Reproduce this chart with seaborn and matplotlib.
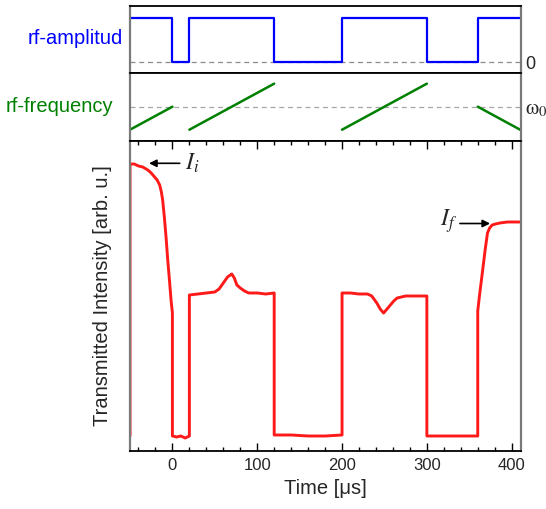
import numpy as np
import pandas as pd
import matplotlib
matplotlib.use("Agg")
import matplotlib.pyplot as plt
from matplotlib.ticker import MultipleLocator
import seaborn as sns

# ---------------- data ----------------
amp_time = [-50, 0, 0, 20, 20, 120, 120, 200, 200, 300, 300, 360, 360, 411]
amp_value = [1, 1, 0, 0, 1, 1, 0, 0, 1, 1, 0, 0, 1, 1]

freq_time = [-50, 0, 20, 120, 200, 300, 360, 411]
freq_value = [-1, 0, -1, 1, -1, 1, 0, -1.02]
freq_segment = [0, 0, 1, 1, 2, 2, 3, 3]

trace_time = [-50, -50, -45, -40, -35, -29, -25, -21, -18, -15, -13, -11.5, -9.5,
              -7.5, -5.5, -3.5, -1.6, 0, 0, 5, 10, 15, 20, 20, 30, 40, 50, 55,
              60, 65, 70, 73, 76, 80, 85, 90, 100, 110, 120, 120, 140, 160, 180,
              200, 200, 210, 220, 230, 235, 241, 245, 249, 253, 257, 261, 265,
              275, 290, 300, 300, 320, 340, 360, 360, 362, 364.8, 368.7, 371.5,
              374, 377, 381, 386, 395, 411]
trace_value = [15, 287, 287, 285, 284, 281, 278, 274, 271, 266, 259, 251, 234,
               214, 191, 171, 151, 138, 15, 14, 15, 13, 15, 156, 157, 158, 159,
               162, 168, 174, 177, 173, 166, 163, 160, 158, 158, 157, 158, 16,
               16, 15, 15, 16, 158, 158, 157, 157, 155, 148, 142, 138, 142, 146,
               150, 153, 155, 155, 155, 15, 15, 15, 15, 140, 155, 174, 201, 218,
               223, 226, 227, 228, 229, 229]

xticks = [0, 100, 200, 300, 400]

amp_df = pd.DataFrame({"t": amp_time, "a": amp_value})
freq_df = pd.DataFrame({"t": freq_time, "f": freq_value, "seg": freq_segment})
trace_df = pd.DataFrame({"t": trace_time, "I": trace_value})

# ---------------- style ----------------
sns.set_style("white")
plt.rcParams["font.family"] = ["Liberation Sans", "DejaVu Sans"]
plt.rcParams["mathtext.fontset"] = "stix"

fig = plt.figure(figsize=(5.46, 5.09), dpi=100)
gs = fig.add_gridspec(3, 1, height_ratios=[67.3, 67.7, 310], hspace=0,
                      left=130 / 546, right=521 / 546,
                      bottom=1 - 451 / 509, top=1 - 6 / 509)
ax1 = fig.add_subplot(gs[0])
ax2 = fig.add_subplot(gs[1], sharex=ax1)
ax3 = fig.add_subplot(gs[2], sharex=ax1)

BLUE = "#0000ff"
GREEN = "#008000"
RED = "#ff1a1a"

# top: rf amplitude
ax1.axhline(0, color="#8c8c8c", lw=0.9, ls=(0, (4, 3)))
sns.lineplot(data=amp_df, x="t", y="a", ax=ax1, color=BLUE, lw=1.6,
             sort=False, estimator=None)
ax1.set_ylim(-0.25, 1.26)

# middle: rf frequency
ax2.axhline(0, color="#a6a6a6", lw=0.9, ls=(0, (4, 3)))
sns.lineplot(data=freq_df, x="t", y="f", units="seg", ax=ax2, color=GREEN,
             lw=1.8, sort=False, estimator=None)
ax2.set_ylim(-1.49, 1.45)

# bottom: transmitted intensity
sns.lineplot(data=trace_df, x="t", y="I", ax=ax3, color=RED, lw=2.1,
             sort=False, estimator=None)
ax3.set_ylim(0, 310)
ax3.set_xlim(-50, 411)

for ax in (ax1, ax2, ax3):
    ax.set_xlabel("")
    ax.set_ylabel("")
    for side in ("top", "bottom"):
        ax.spines[side].set_color("black")
        ax.spines[side].set_linewidth(1.3)
    for side in ("left", "right"):
        ax.spines[side].set_color("#7a7a7a")
        ax.spines[side].set_linewidth(1.6)
        ax.spines[side].set_visible(True)

for ax in (ax1, ax2):
    ax.tick_params(axis="x", which="both", bottom=False, top=False,
                   labelbottom=False)
    ax.yaxis.tick_right()
    ax.set_yticks([0])
    ax.tick_params(axis="y", length=0, pad=3)

ax1.set_yticklabels(["0"], fontsize=13)
ax2.set_yticklabels([r"$\mathrm{\omega}_0$"], fontsize=15)

ax3.set_yticks([])
ax3.set_xticks(xticks)
ax3.set_xticklabels([str(v) for v in xticks])
ax3.xaxis.set_minor_locator(MultipleLocator(20))
ax3.tick_params(axis="x", which="both", direction="in", top=True, bottom=True,
                labelsize=12, pad=5, color="black")
ax3.tick_params(axis="x", which="major", length=5.5, width=1)
ax3.tick_params(axis="x", which="minor", length=3, width=1)

ax3.set_xlabel("Time [μs]", fontsize=14.5)
ax3.xaxis.set_label_coords(0.5, -0.09)
ax3.set_ylabel("Transmitted Intensity [arb. u.]", fontsize=14.5)
ax3.yaxis.set_label_coords(-0.045, 0.5)

# annotations
arrow_kw = dict(arrowstyle="-|>", color="black", lw=1.2, mutation_scale=11,
                shrinkA=0, shrinkB=0)
ax3.annotate("", xy=(-27.6, 287.7), xytext=(8.6, 287.7), arrowprops=arrow_kw)
ax3.text(14.5, 281.7, r"$I_i$", fontsize=17, ha="left", va="baseline")
ax3.annotate("", xy=(374.6, 227.5), xytext=(339, 227.5), arrowprops=arrow_kw)
ax3.text(315, 225.3, r"$I_f$", fontsize=17, ha="left", va="baseline")

# panel labels
fig.text(122.6 / 546, 1 - 38.3 / 509, "rf-amplitud", color=BLUE, fontsize=14.5,
         ha="right", va="center")
fig.text(113 / 546, 1 - 106.7 / 509, "rf-frequency", color=GREEN, fontsize=14.5,
         ha="right", va="center")

fig.savefig("out.png", dpi=100)
